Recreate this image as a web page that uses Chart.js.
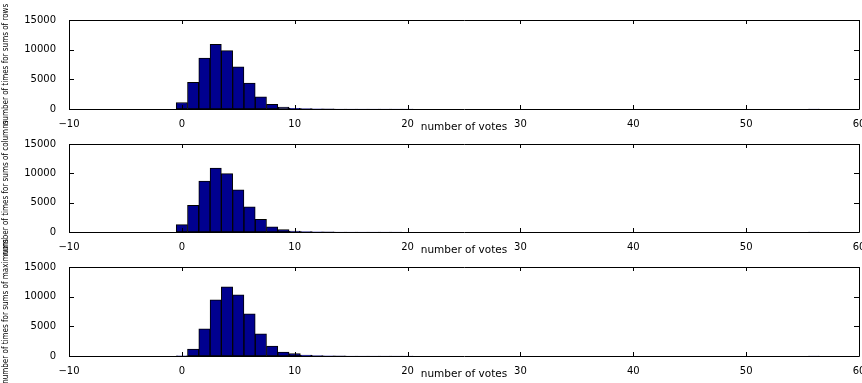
<!DOCTYPE html>
<html>
<head>
<meta charset="utf-8">
<script src="https://cdn.jsdelivr.net/npm/chart.js@4"></script>
<style>
  html, body { margin: 0; padding: 0; background: #fff; }
  body { width: 862px; height: 383px; position: relative; overflow: hidden; }
  canvas { position: absolute; left: 0; top: 0; }
</style>
</head>
<body>
<canvas id="rows" width="862" height="383"></canvas>
<canvas id="cols" width="862" height="383"></canvas>
<canvas id="maxs" width="862" height="383"></canvas>
<script>
// histogram bins (number of votes)
const voteBins = [0, 1, 2, 3, 4, 5, 6, 7, 8, 9, 10, 11, 12, 13, 14, 15, 16, 17, 18, 19,
  20, 21, 22, 23, 24, 25, 26, 27, 28, 29, 30, 31, 32, 33, 34, 35, 36, 37, 38, 39,
  40, 41, 42, 43, 44, 45, 46, 47, 48, 49, 50, 51, 52, 53, 54, 55, 56];

const rowCounts = [1100, 4500, 8600, 10900, 9850, 7100, 4350, 2050, 800, 330, 120, 50, 20, 10, 5, 3, 2, 1, 1, 1,
  1, 0, 0, 0, 0, 0, 0, 0, 0, 0, 0, 0, 0, 0, 0, 0, 0, 0, 0, 0,
  0, 0, 0, 0, 0, 0, 0, 0, 0, 0, 0, 0, 0, 0, 0, 0, 1];
const colCounts = [1250, 4550, 8700, 10900, 9950, 7200, 4300, 2150, 900, 400, 170, 60, 25, 10, 5, 3, 2, 1, 1, 1,
  0, 0, 0, 0, 0, 0, 0, 0, 0, 0, 0, 0, 0, 0, 0, 0, 0, 0, 0, 0,
  0, 0, 0, 0, 0, 0, 0, 0, 0, 0, 0, 0, 0, 0, 0, 0, 1];
const maxCounts = [30, 1180, 4570, 9470, 11670, 10320, 7100, 3720, 1690, 680, 400, 150, 60, 25, 10, 5, 3, 2, 1, 1,
  1, 0, 0, 0, 0, 0, 0, 0, 0, 0, 0, 0, 0, 0, 0, 0, 0, 0, 0, 0,
  0, 0, 0, 0, 0, 0, 0, 0, 0, 0, 0, 0, 0, 0, 0, 0, 1];

const xTicks = [-10, 0, 10, 20, 30, 40, 50, 60];
const yTicks = [0, 5000, 10000, 15000];

// box round the plot with inward tick marks, matlab style
const matlabBox = {
  id: 'matlabBox',
  afterDatasetsDraw(chart) {
    const { ctx, chartArea: a, scales: { x, y } } = chart;
    ctx.save();
    ctx.strokeStyle = '#000';
    ctx.lineWidth = 1;
    ctx.beginPath();
    x.ticks.forEach(t => {
      const px = Math.round(x.getPixelForValue(t.value)) + 0.5;
      ctx.moveTo(px, a.bottom); ctx.lineTo(px, a.bottom - 4);
      ctx.moveTo(px, a.top); ctx.lineTo(px, a.top + 4);
    });
    y.ticks.forEach(t => {
      const py = Math.round(y.getPixelForValue(t.value)) + 0.5;
      ctx.moveTo(a.left, py); ctx.lineTo(a.left + 5, py);
      ctx.moveTo(a.right, py); ctx.lineTo(a.right - 5, py);
    });
    ctx.rect(Math.round(a.left) + 0.5, Math.round(a.top) + 0.5, Math.round(a.width), Math.round(a.height));
    ctx.stroke();
    ctx.restore();
  }
};

function makeHist(id, counts, yTitle, padTop, padBottom) {
  return new Chart(document.getElementById(id).getContext('2d'), {
    type: 'bar',
    data: {
      datasets: [{
        data: voteBins.map((v, i) => ({ x: v, y: counts[i] })),
        backgroundColor: '#00008f',
        borderColor: '#000',
        borderWidth: 1,
        borderSkipped: false,
        barPercentage: 1,
        categoryPercentage: 1
      }]
    },
    options: {
      responsive: false,
      animation: false,
      layout: { padding: { top: padTop, bottom: padBottom, left: 0, right: 3 } },
      plugins: { legend: { display: false }, tooltip: { enabled: false } },
      scales: {
        x: {
          type: 'linear',
          min: -10,
          max: 60,
          offset: false,
          grid: { display: false },
          border: { display: false },
          afterBuildTicks: s => { s.ticks = xTicks.map(v => ({ value: v })); },
          afterFit: s => { s.height = 24; s.paddingRight = 3; },
          ticks: {
            autoSkip: false,
            maxRotation: 0,
            padding: 2,
            color: '#000',
            font: { family: 'DejaVu Sans', size: 10, lineHeight: 1 },
            callback: v => v < 0 ? '\u2212' + (-v) : String(v)
          },
          title: {
            display: true,
            text: 'number of votes',
            color: '#000',
            padding: 0,
            font: { family: 'DejaVu Sans', size: 10.5, lineHeight: 1 }
          }
        },
        y: {
          min: 0,
          max: 15000,
          grid: { display: false },
          border: { display: false },
          afterBuildTicks: s => { s.ticks = yTicks.map(v => ({ value: v })); },
          afterFit: s => { s.width = 69; },
          ticks: {
            padding: 5,
            color: '#000',
            font: { family: 'DejaVu Sans', size: 10, lineHeight: 1 },
            callback: v => String(v)
          },
          title: {
            display: true,
            text: yTitle,
            color: '#000',
            padding: 1,
            font: { family: "'Liberation Sans Narrow', 'DejaVu Sans Condensed', sans-serif", size: 8, lineHeight: 1.2 }
          }
        }
      }
    },
    plugins: [matlabBox]
  });
}

makeHist('rows', rowCounts, 'number of times for sums of rows', 20, 250);
makeHist('cols', colCounts, 'number of times for sums of columns', 144, 127);
makeHist('maxs', maxCounts, 'number of times for sums of maximums', 267, 3);
</script>
</body>
</html>
